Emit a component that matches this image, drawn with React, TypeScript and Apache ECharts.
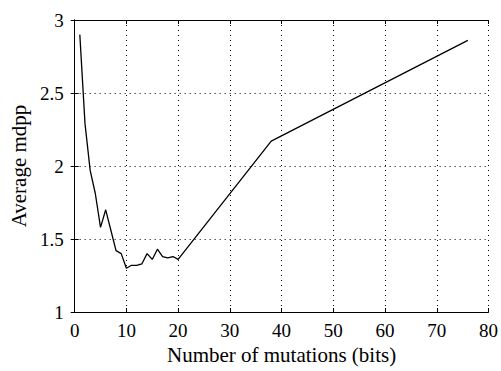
import React, { useEffect, useRef } from "react";
import * as echarts from "echarts";

const xValues = [1, 2, 3, 4, 5, 6, 7, 8, 9, 10, 11, 12, 13, 14, 15, 16, 17, 18, 19, 20, 38, 76];
const yValues = [2.9, 2.29, 1.97, 1.81, 1.58, 1.7, 1.56, 1.42, 1.4, 1.3, 1.32, 1.32, 1.33, 1.4, 1.36, 1.43, 1.38, 1.37, 1.38, 1.36, 2.17, 2.86];
const xLabel = "Number of mutations (bits)";
const yLabel = "Average mdpp";

const FONT = "Liberation Serif";

export default function App() {
  const ref = useRef<HTMLDivElement>(null);
  useEffect(() => {
    if (!ref.current) return;
    const chart = echarts.init(ref.current, null, { renderer: "svg" });
    const axisLine = { show: true, lineStyle: { color: "#000", width: 1 } };
    const tick = { show: true, inside: true, length: 4, lineStyle: { color: "#000" } };
    const split = { show: true, lineStyle: { color: "#000", type: [1, 4] as any, width: 1 } };
    const label = { color: "#000", fontFamily: FONT, fontSize: 19 };
    chart.setOption({
      animation: false,
      backgroundColor: "#fff",
      grid: { left: 74, right: 11, top: 20, bottom: 59, containLabel: false },
      xAxis: [
        {
          type: "value", min: 0, max: 80, interval: 10, position: "bottom",
          axisLine, axisTick: tick, splitLine: split,
          axisLabel: { ...label, margin: 9 },
          name: xLabel, nameLocation: "middle", nameGap: 32,
          nameTextStyle: { color: "#000", fontFamily: FONT, fontSize: 21 },
        },
        {
          type: "value", min: 0, max: 80, interval: 10, position: "top",
          axisLine, axisTick: tick, splitLine: { show: false }, axisLabel: { show: false },
        },
      ],
      yAxis: [
        {
          type: "value", min: 1, max: 3, interval: 0.5, position: "left",
          axisLine, axisTick: tick, splitLine: split,
          axisLabel: { ...label, margin: 11 },
          name: yLabel, nameLocation: "middle", nameGap: 45,
          nameTextStyle: { color: "#000", fontFamily: FONT, fontSize: 21 },
        },
        {
          type: "value", min: 1, max: 3, interval: 0.5, position: "right",
          axisLine, axisTick: tick, splitLine: { show: false }, axisLabel: { show: false },
        },
      ],
      series: [
        {
          type: "line",
          data: xValues.map((x, i) => [x, yValues[i]]),
          showSymbol: false,
          lineStyle: { color: "#000", width: 1.3 },
          xAxisIndex: 0, yAxisIndex: 0,
        },
      ],
    });
    return () => chart.dispose();
  }, []);
  return <div ref={ref} style={{ width: 501, height: 371, position: "absolute", left: 0, top: 0 }} />;
}
